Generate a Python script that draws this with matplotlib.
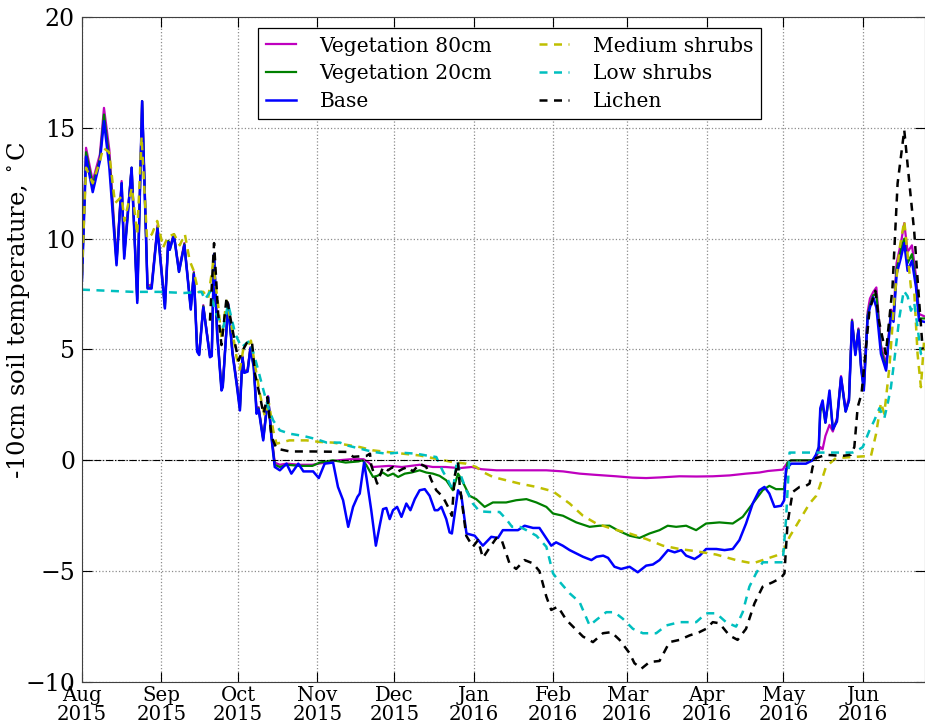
#!/usr/bin/env python3
"""Soil temperature at -10cm, Aug 2015 - Jun 2016, six sites."""
import datetime as dt

import numpy as np
import matplotlib
matplotlib.use("Agg")
import matplotlib.pyplot as plt
import matplotlib.dates as mdates

START = dt.datetime(2015, 8, 1)   # day 0 of every *_day list

# --- Vegetation 80cm (magenta) ---
veg80_day = [0, 1.6, 4.2, 7, 8.6, 10.7, 13.5, 15.5, 16.5, 19.4, 21.6, 23.5, 25.6, 27.2, 29.5,
             32.4, 33.7, 34.3, 35.9, 37.9, 40, 42.5, 43.7, 45, 45.8, 47.4, 50, 50.7, 51.6, 52.8,
             54.5, 55, 57.1, 58.8, 60.4, 61.7, 62.7, 63.4, 64.7, 65.8, 67.1, 68.2, 69, 70.8, 72.7,
             74, 75.3, 77.3, 80, 85, 90, 95, 100, 105, 110, 112, 113.7, 120, 125, 131.9, 137,
             142, 147.5, 152.3, 156, 161.9, 170, 181.4, 188, 194.4, 200, 208.7, 215, 220.4, 226,
             233.4, 240, 246.4, 253, 259.4, 264.6, 268, 273.7, 275.6, 277, 285, 286.7, 288.4,
             289.3, 290.4, 292, 293.3, 294.9, 296.5, 298.3, 299.6, 300.8, 302.1, 303.3, 304.3,
             305.4, 306.9, 307.8, 309.1, 310.3, 312.1, 314.1, 316, 317, 318.2, 319.9, 321.2,
             322.5, 324.2, 325.8, 327, 329]
veg80_val = [8.3, 14.1, 12.6, 13.8, 15.9, 14.0, 9.0, 12.6, 9.3, 13.2, 7.3, 16.2, 7.9, 7.9, 10.6,
             7.0, 9.9, 9.6, 10.2, 8.6, 9.8, 6.9, 8.5, 5.0, 4.85, 7.0, 4.7, 4.8, 9.3, 5.8,
             3.3, 3.4, 7.1, 4.9, 3.6, 2.4, 4.7, 4.0, 4.1, 5.1, 4.3, 2.3, 2.4, 1.0, 2.9,
             1.2, -0.1, -0.2, -0.15, -0.2, -0.2, -0.1, 0.0, 0.05, 0.05, -0.1, -0.3, -0.25, -0.3, -0.2, -0.3,
             -0.3, -0.35, -0.3, -0.4, -0.45, -0.45, -0.45, -0.5, -0.6, -0.65, -0.72, -0.78, -0.8, -0.77,
             -0.72, -0.73, -0.72, -0.68, -0.6, -0.55, -0.48, -0.42, -0.1, 0.0, 0.0, 0.1, 0.6,
             0.5, 1.1, 1.6, 1.3, 1.9, 3.8, 2.3, 2.8, 6.35, 4.85, 5.95, 4.3,
             3.3, 6.7, 7.3, 7.6, 7.8, 5.2, 4.3, 6.8, 6.6, 8.9, 9.8, 10.7,
             9.4, 9.7, 8.3, 6.6, 6.5]

# --- Vegetation 20cm (green) ---
veg20_day = [0, 1.6, 4.2, 7, 8.6, 10.7, 13.5, 15.5, 16.5, 19.4, 21.6, 23.5, 25.6, 27.2, 29.5,
             32.4, 33.7, 34.3, 35.9, 37.9, 40, 42.5, 43.7, 45, 45.8, 47.4, 50, 50.7, 51.6, 52.8,
             54.5, 55, 57.1, 58.8, 60.4, 61.7, 62.7, 63.4, 64.7, 65.8, 67.1, 68.2, 69, 70.8, 72.7,
             74, 75.3, 77.3, 80, 85, 90, 92.9, 98, 103, 108, 109.6, 111, 113.7, 115.4, 117.5,
             119.5, 121.5, 123.5, 126.1, 128.7, 131.9, 134.5, 137.1, 139.7, 142.3, 144.9, 146.9,
             148.2, 151.4, 154, 157.3, 160.5, 165.7, 169.6, 173.6, 177.5, 181.4, 184, 187.9,
             193.1, 198.3, 202.2, 206.1, 210, 213.9, 217.8, 221.7, 225.6, 228.8, 232.1, 236,
             239.9, 243.8, 249, 254.2, 258.1, 262, 265.9, 268.5, 271.1, 274.2, 275.6, 277,
             285.4, 286.7, 287.8, 288.4, 289.3, 290.4, 292, 293.3, 294.9, 296.5, 298.3, 299.6,
             300.8, 302.1, 303.3, 304.3, 305.4, 306.9, 307.8, 309.1, 310.3, 312.1, 314.1, 316,
             317, 318.2, 319.9, 321.2, 322.5, 324.2, 325.8, 327, 329]
veg20_val = [8.2, 13.9, 12.4, 13.6, 15.6, 13.6, 8.9, 12.5, 9.2, 13.2, 7.2, 16.2, 7.8, 7.8, 10.5,
             6.9, 9.9, 9.5, 10.2, 8.5, 9.75, 6.85, 8.45, 4.95, 4.8, 6.95, 4.7, 4.75, 9.3, 5.75,
             3.2, 3.35, 7.05, 4.85, 3.5, 2.3, 4.65, 3.95, 4.05, 5.05, 4.25, 2.2, 2.35, 0.95, 2.85,
             1.1, -0.2, -0.3, -0.2, -0.25, -0.25, -0.1, 0.0, -0.1, -0.05, 0.0, -0.2, -0.75, -0.7, -0.55,
             -0.7, -0.6, -0.75, -0.6, -0.55, -0.45, -0.55, -0.6, -0.7, -0.9, -1.35, -0.6,
             -0.85, -1.6, -1.75, -2.1, -1.9, -1.9, -1.8, -1.75, -1.9, -2.1, -2.4, -2.5,
             -2.8, -3.0, -2.95, -2.95, -3.2, -3.4, -3.5, -3.3, -3.15, -2.95, -3.0, -2.95,
             -3.15, -2.85, -2.8, -2.85, -2.55, -1.95, -1.35, -1.15, -1.3, -1.3, -0.1, 0.0,
             0.0, 0.2, 0.55, 2.2, 2.5, 1.7, 3.0, 1.4, 1.8, 3.7, 2.2, 2.7,
             6.3, 4.8, 5.9, 4.25, 3.2, 6.55, 7.0, 7.45, 7.5, 5.0, 4.15, 6.7,
             6.4, 8.6, 9.5, 10.0, 8.9, 9.3, 8.0, 6.4, 6.4]

# --- Base (blue) ---
base_day = [0, 1.6, 4.2, 7, 8.6, 10.7, 13.5, 15.5, 16.5, 19.4, 21.6, 23.5, 25.6, 27.2, 29.5,
            32.4, 33.7, 34.3, 35.9, 37.9, 40, 42.5, 43.7, 45, 45.8, 47.4, 50, 50.7, 51.6, 52.8,
            54.5, 55, 57.1, 58.8, 60.4, 61.7, 62.7, 63.4, 64.7, 65.8, 67.1, 68.2, 69, 70.8, 72.7,
            74, 75.3, 77.3, 79.9, 81.8, 84.5, 86.5, 90.3, 92.5, 94.8, 98.1, 100, 102, 104, 105.9,
            107.6, 108.5, 110.2, 111.1, 113, 114.8, 116.3, 117.6, 118.9, 120.2, 121.5, 123.1,
            124.8, 126.7, 128.3, 130, 131.9, 133.9, 135.8, 137.8, 139, 140.4, 142.3, 143.6,
            144.5, 145.6, 146.9, 148.2, 150.2, 153.4, 156.6, 159.9, 162.5, 164.4, 167.6, 170.3,
            172.9, 176.2, 178.7, 180.7, 183.3, 185.2, 187.8, 190.5, 193.1, 195.7, 199, 201,
            203.6, 205.5, 208, 210.6, 213.9, 217.1, 220.4, 223, 225.6, 228.9, 231.5, 234.1,
            236, 239.3, 241.3, 243.8, 247.8, 251, 254.2, 256.8, 259.4, 262, 264.6, 266.6,
            268.5, 270.5, 273.1, 274.3, 275, 277, 282.8, 285.4, 286.7, 287.8, 288.4, 289.3,
            290.4, 292, 293.3, 294.9, 296.5, 298.3, 299.6, 300.8, 302.1, 303.3, 304.3, 305.4,
            306.9, 307.8, 309.1, 310.3, 312.1, 314.1, 316, 317, 318.2, 319.9, 321.2, 322.5,
            324.2, 325.8, 327, 329]
base_val = [8.1, 13.7, 12.1, 13.5, 15.3, 13.2, 8.8, 12.5, 9.1, 13.2, 7.1, 16.2, 7.75, 7.75, 10.45,
            6.85, 9.85, 9.5, 10.15, 8.5, 9.7, 6.8, 8.4, 4.9, 4.75, 6.9, 4.65, 4.7, 9.3, 5.7,
            3.15, 3.3, 7.05, 4.8, 3.45, 2.25, 4.65, 3.95, 4.0, 5.05, 4.2, 2.1, 2.3, 0.9, 2.85,
            1.05, -0.3, -0.45, -0.15, -0.6, -0.15, -0.5, -0.5, -0.8, -0.15, -0.1, -1.2, -1.8, -3.0, -2.1,
            -1.65, -1.5, -0.1, -0.75, -2.25, -3.85, -2.95, -2.2, -2.15, -2.65, -2.25, -2.1,
            -2.55, -1.95, -2.25, -1.75, -1.35, -1.3, -1.6, -2.25, -2.25, -2.1, -2.65, -3.25,
            -3.3, -2.4, -1.35, -1.6, -3.3, -3.4, -3.85, -3.45, -3.5, -3.15, -3.15, -3.15,
            -2.95, -3.05, -3.05, -3.4, -3.85, -3.7, -3.85, -4.05, -4.2, -4.35, -4.5, -4.35,
            -4.3, -4.4, -4.8, -4.9, -4.8, -5.05, -4.75, -4.7, -4.5, -4.05, -4.15, -4.05,
            -4.3, -4.45, -4.3, -4.0, -4.0, -4.05, -4.0, -3.6, -2.85, -1.95, -1.35, -1.2,
            -1.5, -2.1, -2.05, -1.8, -0.4, -0.15, -0.15, 0.0, 0.25, 0.6, 2.35, 2.7,
            1.7, 3.15, 1.4, 1.75, 3.75, 2.2, 2.7, 6.25, 4.75, 5.85, 4.2, 3.15,
            6.45, 6.9, 7.35, 6.9, 4.8, 4.05, 6.6, 6.25, 8.4, 9.15, 9.8, 8.55,
            9.0, 7.8, 6.3, 6.25]

# --- Medium shrubs (yellow, dashed) ---
med_day = [0, 1.6, 4.2, 7, 8.3, 10.6, 12.9, 15.5, 16.6, 19.5, 21.6, 23.3, 25.4, 27.3, 29.4,
           31.7, 33.7, 36, 38.2, 40.2, 42.1, 43.5, 45.5, 47.4, 49.3, 51.2, 53.2, 54.5, 56.5,
           58.5, 60.4, 61.7, 63, 64.3, 66, 67.6, 69.5, 71.4, 73.1, 74.7, 76, 81, 87.7, 92.9,
           98, 103.3, 108.5, 113.7, 118.9, 125.4, 131.9, 138.4, 144.9, 150.1, 154, 157, 160.5,
           165.7, 171, 177.5, 184, 190.5, 195.7, 200.9, 207.4, 213.9, 220.4, 226.9, 233.4,
           239.9, 247.7, 255.5, 262, 265.9, 271.1, 273.7, 276.4, 280.3, 284.2, 286.8, 288.1,
           290.6, 292, 294.5, 300.9, 308.2, 310.2, 312.1, 313.4, 315.4, 317.3, 319.3, 321.2,
           322.5, 323.8, 325.1, 326.4, 327.7, 329]
med_val = [8.5, 13.2, 12.5, 13.5, 14.1, 13.9, 11.6, 11.9, 10.8, 12.3, 10.2, 14.6, 10.0, 10.2, 10.8,
           9.6, 10.1, 10.2, 9.7, 10.2, 9.0, 8.6, 7.6, 7.6, 7.3, 8.9, 7.0, 5.5, 7.2,
           6.0, 4.65, 4.1, 5.0, 5.1, 5.4, 4.3, 3.0, 2.0, 2.55, 1.35, 0.75, 0.9, 0.9, 0.83,
           0.8, 0.7, 0.6, 0.45, 0.38, 0.3, 0.22, 0.07, -0.08, -0.15, -0.3, -0.55, -0.75,
           -0.9, -1.05, -1.2, -1.4, -1.95, -2.5, -2.85, -3.1, -3.3, -3.55, -3.85, -4.0,
           -4.1, -4.25, -4.5, -4.65, -4.5, -4.3, -4.15, -3.45, -2.7, -1.95, -1.6, -1.2,
           -0.3, -0.15, 0.1, 0.15, 0.2, 1.2, 2.6, 2.1, 4.2, 7.2, 9.5, 10.8,
           9.3, 7.8, 7.6, 4.8, 3.3, 5.5]

# --- Low shrubs (cyan, dashed) ---
low_day = [0, 10, 20, 30, 40, 46.7, 48, 50, 52.5, 55.2, 57.1, 59.9, 62.3, 65.6, 68.2, 70.8,
           72.7, 74.7, 77.3, 81.2, 86.5, 91.7, 95.6, 100.8, 103.3, 108.5, 113.7, 118.9, 124.1,
           130.6, 134.5, 138.4, 141, 143, 144.9, 146.5, 148.2, 150.1, 152.7, 155.3, 159.2,
           163.1, 165.7, 168, 171, 173.6, 177.5, 181.4, 184, 186, 190.5, 194.4, 198.3, 200.9,
           204.8, 208, 211.3, 215.2, 219.1, 224.3, 228.2, 233.4, 239.9, 243.8, 247.7, 251.6,
           255.5, 258.1, 260.7, 263.3, 265.9, 273.7, 275, 276.4, 290, 301, 303, 305, 307.6,
           309.5, 311.5, 313.4, 314.7, 316, 317.3, 319.3, 321, 322.5, 323.8, 325.1, 326.4,
           327.7, 329]
low_val = [7.7, 7.65, 7.6, 7.6, 7.55, 7.6, 7.25, 7.6, 6.6, 6.0, 7.05, 5.7, 5.1, 5.4, 4.35, 3.2,
           2.4, 1.8, 1.35, 1.2, 1.1, 0.95, 0.8, 0.8, 0.68, 0.53, 0.38, 0.3, 0.35,
           0.3, 0.22, 0.15, -0.5, -0.9, -1.35, 0.0, -0.75, -1.35, -1.95, -2.3, -2.33,
           -2.33, -2.65, -3.0, -3.0, -3.15, -3.4, -3.9, -5.1, -5.4, -6.0, -6.4, -7.45, -7.2,
           -6.85, -6.85, -7.15, -7.6, -7.8, -7.8, -7.45, -7.3, -7.3, -6.9, -6.9, -7.3,
           -7.5, -6.85, -5.7, -5.1, -4.6, -4.6, -2.7, 0.35, 0.35, 0.35, 0.45, 0.6, 1.35,
           1.8, 2.35, 1.9, 2.55, 3.3, 4.5, 6.45, 7.65, 7.4, 6.75, 7.1, 6.0,
           4.8, 4.7]

# --- Lichen (black, dashed) ---
lichen_day = [50, 51.6, 53.2, 54.5, 56.5, 58.5, 59.9, 61.2, 62.5, 64.4, 66.4, 67.6, 69.6, 70.9,
              72.4, 74.1, 76, 81.2, 90, 103.3, 106, 111.1, 112.5, 113, 115.3, 117.6, 119.5,
              121.5, 123.5, 125.4, 127.4, 129.3, 131.9, 134.5, 136.5, 138.4, 141, 143, 144.5,
              145.6, 146.9, 147.5, 150.1, 152.7, 154.7, 156.6, 159.2, 161.9, 163.8, 165.7, 167,
              169.6, 172.9, 176.2, 178.7, 181.4, 183.3, 185.9, 189.2, 193.1, 195.7, 199.6,
              203.5, 206.8, 210, 213.9, 215.8, 218.5, 221.7, 225.6, 229.5, 233.4, 237.3, 241.2,
              243.8, 246.4, 249, 252.9, 256.1, 259.4, 262.7, 265.9, 269.8, 273.1, 274.4, 275.6,
              277.6, 280.3, 282.8, 284.2, 285.4, 286.7, 290.6, 297, 300.3, 301.7, 303, 304.5,
              306, 307.6, 309.9, 311.4, 314, 316.6, 318.6, 321.2, 323.2, 325.1, 327, 328.4]
lichen_val = [6.3, 9.8, 6.6, 5.2, 7.35, 6.1, 5.2, 4.5, 4.9, 5.3, 5.35, 3.9, 2.85, 2.1,
              2.85, 1.05, 0.53, 0.4, 0.4, 0.38, 0.16, 0.2, 0.3, -0.22, -1.05, -0.3, -0.45,
              -0.3, -0.5, -0.38, -0.3, -0.5, -0.15, -0.3, -0.9, -1.35, -1.65, -2.1, -2.5,
              -0.7, -0.08, -1.05, -3.4, -3.9, -3.6, -4.4, -3.95, -3.5, -3.55, -4.2, -4.65,
              -4.9, -4.5, -4.65, -5.0, -6.15, -6.75, -6.6, -7.2, -7.65, -7.95, -8.2,
              -7.8, -7.75, -8.1, -8.7, -9.15, -9.4, -9.1, -9.05, -8.2, -8.1, -7.9, -7.75,
              -7.6, -7.3, -7.35, -7.9, -8.1, -7.6, -6.45, -5.7, -5.5, -5.3, -5.1, -2.85,
              -1.43, -1.2, -1.15, -1.05, -0.3, 0.1, 0.25, 0.2, 0.25, 0.6, 2.4, 3.0,
              4.8, 6.75, 7.65, 6.25, 4.8, 7.8, 12.5, 14.9, 12.5, 10.3, 7.2, 5.0]

plt.rcParams["font.family"] = "DejaVu Serif"
plt.rcParams["mathtext.fontset"] = "dejavuserif"
plt.rcParams["font.size"] = 14

t0 = mdates.date2num(START)


def tx(days):
    return t0 + np.asarray(days, dtype=float)


fig = plt.figure(figsize=(9.25, 7.26), dpi=100)
ax = fig.add_axes([0.0886, 0.0606, 0.9114, 0.916])

dash = (3.2, 2.6)
ax.plot(tx(veg80_day), veg80_val, color="m", lw=1.6, label="Vegetation 80cm")
ax.plot(tx(veg20_day), veg20_val, color="g", lw=1.6, label="Vegetation 20cm")
ax.plot(tx(base_day), base_val, color="b", lw=1.8, label="Base")
ax.plot(tx(med_day), med_val, color="y", lw=1.8, dashes=dash, label="Medium shrubs")
ax.plot(tx(low_day), low_val, color="c", lw=1.8, dashes=dash, label="Low shrubs")
ax.plot(tx(lichen_day), lichen_val, color="k", lw=1.8, dashes=dash, label="Lichen")
ax.axhline(0, color="k", lw=0.8, ls="-.")

ax.set_ylim(-10, 20)
ax.set_yticks(range(-10, 21, 5))
ax.set_xlim(t0, t0 + 329.3)
ax.xaxis.set_major_locator(mdates.MonthLocator())
ax.xaxis.set_major_formatter(mdates.DateFormatter("%b\n%Y"))
ax.tick_params(direction="in", top=True, right=True, length=7, width=0.8)
ax.tick_params(axis="y", labelsize=17, pad=5)
ax.tick_params(axis="x", labelsize=14.2, pad=3)
for lab in ax.get_xticklabels():
    lab.set_linespacing(1.0)
ax.grid(True, color="0.55", ls=":", lw=0.9)
for s in ax.spines.values():
    s.set_color("0.25")
ax.set_ylabel(r"-10cm soil temperature, $^\circ$C", fontsize=17.5)
ax.yaxis.set_label_coords(-0.059, 0.56)

leg = ax.legend(ncol=2, loc="upper center", bbox_to_anchor=(0.507, 0.998), fancybox=False,
                edgecolor="k", framealpha=1, fontsize=14.6, handlelength=1.5,
                handletextpad=1.15, columnspacing=2.3, labelspacing=0.42, borderpad=0.4)
leg.get_frame().set_linewidth(0.9)

fig.savefig("out.png", dpi=100)
